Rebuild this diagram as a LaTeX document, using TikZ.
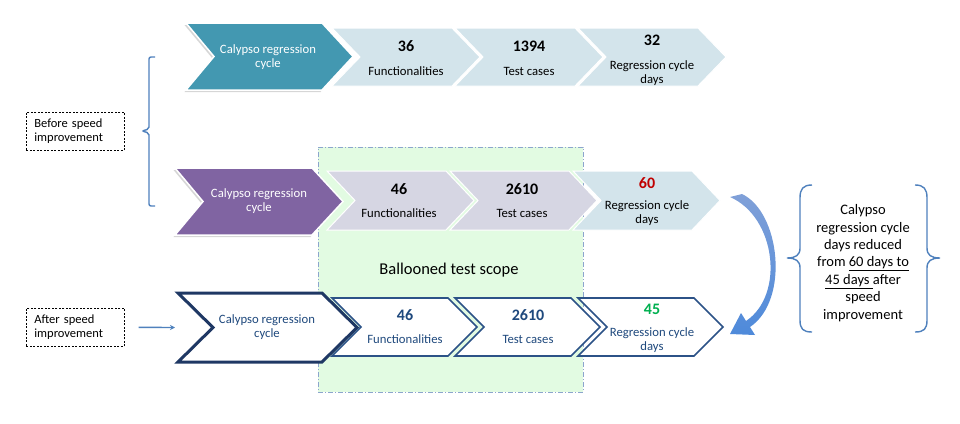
\documentclass[tikz,border=0pt]{standalone}
\usepackage{fontspec}
\setmainfont{Carlito}
\usetikzlibrary{shadows,arrows.meta}
\definecolor{tealc}{RGB}{67,152,177}
\definecolor{lightc}{RGB}{211,228,235}
\definecolor{purplec}{RGB}{128,100,162}
\definecolor{lavc}{RGB}{214,214,227}
\definecolor{greenbg}{RGB}{226,251,226}
\definecolor{scopeline}{RGB}{140,165,205}
\definecolor{navyc}{RGB}{31,56,100}
\definecolor{outc}{RGB}{44,82,135}
\definecolor{navytext}{RGB}{31,73,125}
\definecolor{redc}{RGB}{192,0,0}
\definecolor{greenc}{RGB}{0,176,80}
\definecolor{bracec}{RGB}{79,129,189}
\definecolor{arrtop}{RGB}{128,160,216}
\definecolor{arrmid}{RGB}{195,215,242}
\definecolor{arrbot}{RGB}{78,138,218}
\newcommand\chevbox[5]{\node[cbox, minimum width=#4pt, minimum height=#5pt] (#1) at (#2,#3) {};}
\newcommand\drawchevron[4]{%
  \path[#4] (#1.north west) -- ([xshift=-#3pt]#1.north east) -- (#1.east)
    -- ([xshift=-#3pt]#1.south east) -- (#1.south west) -- ([xshift=#2pt]#1.west) -- cycle;}
\tikzset{
  cbox/.style={anchor=north west, inner sep=0pt, outer sep=0pt, draw=none},
  lightchev/.style={fill=lightc, draw=white, line width=1pt},
  lavchev/.style={fill=lavc, draw=white, line width=1pt},
  bigchev/.style={draw=white, line width=1.5pt, drop shadow={shadow xshift=-1.5pt, shadow yshift=-2pt, opacity=0.35, fill=black!45}},
  outchev/.style={fill=white, draw=outc, line width=1.6pt, line join=miter},
  num/.style={font=\fontsize{16}{18}\selectfont\bfseries, inner sep=0pt},
  lab/.style={font=\fontsize{12.7}{14}\selectfont, align=center, inner sep=0pt},
  sidebox/.style={draw, dashed, dash pattern=on 2pt off 1.5pt, line width=0.7pt, anchor=north west,
    minimum height=38pt, text width=82pt, inner xsep=8pt, inner ysep=2pt, align=left,
    font=\fontsize{12.5}{14}\selectfont},
}
\begin{document}
\begin{tikzpicture}[x=1pt,y=-1pt]
\useasboundingbox (0,0) rectangle (960,423);
\fill[white] (0,0) rectangle (960,423);

% ballooned scope area
\node[cbox, fill=greenbg, draw=scopeline, line width=0.8pt, dash pattern=on 5pt off 2pt on 1pt off 2pt,
  minimum width=265pt, minimum height=245pt] (scope) at (318,147) {};
\node[font=\fontsize{16.5}{18}\selectfont, inner sep=0pt] (balloon) at (449,270) {Ballooned test scope};

% ---- top row
\chevbox{t1}{186}{23}{167}{67}
\chevbox{t2}{332}{28}{148}{58}
\chevbox{t3}{455}{28}{148}{58}
\chevbox{t4}{578}{28}{148}{58}
\drawchevron{t4}{28}{28}{lightchev}
\drawchevron{t3}{28}{28}{lightchev}
\drawchevron{t2}{28}{28}{lightchev}
\drawchevron{t1}{28}{31}{bigchev, fill=tealc}
\node[lab, text=white] (t1txt) at (268,57) {Calypso regression\\cycle};
\node[num] (t2num) at (406,46) {36};
\node[lab] (t2lab) at (406,71) {Functionalities};
\node[num] (t3num) at (529,46) {1394};
\node[lab] (t3lab) at (529,71) {Test cases};
\node[num] (t4num) at (652,40) {32};
\node[lab] (t4lab) at (652,73) {Regression cycle\\days};

% ---- middle row
\chevbox{m1}{175}{168}{168}{67}
\chevbox{m2}{327}{171}{147}{59}
\chevbox{m3}{450}{171}{147}{59}
\chevbox{m4}{573}{171}{147}{59}
\drawchevron{m4}{28}{28}{lightchev}
\drawchevron{m3}{28}{28}{lavchev}
\drawchevron{m2}{28}{28}{lavchev}
\drawchevron{m1}{28}{31}{bigchev, fill=purplec}
\node[lab, text=white] (m1txt) at (259,201) {Calypso regression\\cycle};
\node[num] (m2num) at (399,189) {46};
\node[lab] (m2lab) at (399,213) {Functionalities};
\node[num] (m3num) at (522,189) {2610};
\node[lab] (m3lab) at (522,213) {Test cases};
\node[num, text=redc] (m4num) at (647,183) {60};
\node[lab] (m4lab) at (647,213) {Regression cycle\\days};

% ---- bottom row
\chevbox{b1}{178}{293}{179}{69}
\chevbox{b2}{332}{298}{145}{58}
\chevbox{b3}{455}{298}{145}{58}
\chevbox{b4}{578}{298}{145}{58}
\drawchevron{b4}{29}{29}{outchev}
\drawchevron{b3}{29}{29}{outchev}
\drawchevron{b2}{29}{29}{outchev}
\drawchevron{b1}{35}{35}{outchev, draw=navyc, line width=3pt}
\node[lab, text=navytext] (b1txt) at (267,327) {Calypso regression\\cycle};
\node[num, text=navytext] (b2num) at (405,315) {46};
\node[lab, text=navytext] (b2lab) at (405,339) {Functionalities};
\node[num, text=navytext] (b3num) at (528,315) {2610};
\node[lab, text=navytext] (b3lab) at (528,339) {Test cases};
\node[num, text=greenc] (b4num) at (652,309) {45};
\node[lab, text=navytext] (b4lab) at (652,340) {Regression cycle\\days};

% ---- left side
\node[sidebox] (before) at (26,112) {Before speed\\improvement};
\node[sidebox] (after) at (26,308) {After speed\\improvement};
\draw[bracec, line width=1.4pt, rounded corners=2pt]
  (155,57) -- (149,57) -- (149,129) -- (142,131) -- (149,133) -- (149,206) -- (155,206);
\draw[bracec, line width=1.4pt, -{Stealth[length=5pt,width=5pt]}]
  ([xshift=14pt]after.east) -- ([xshift=-3pt]b1.west);

% ---- curved arrow from 60 days to 45 days
\shade[top color=arrtop, middle color=arrmid, bottom color=arrbot]
  (730,197) -- (742,194) .. controls (780,212) and (790,300) .. (750,327)
  -- (755,335) -- (730,334) -- (741,313) -- (746,321)
  .. controls (785,295) and (776,217) .. (730,197) -- cycle;

% ---- summary with braces
\node[font=\fontsize{14.5}{17.4}\selectfont, align=center, inner sep=0pt] (summary) at (863,263)
  {Calypso\\regression cycle\\days reduced\\from \underline{60 days to}\\\underline{45 days\ }after\\speed\\improvement};
\draw[bracec, line width=1.4pt]
  (812,185) .. controls (803,185) and (800,189) .. (800,198) -- (800,248)
  .. controls (800,255) and (796,258) .. (787,258)
  .. controls (796,258) and (800,261) .. (800,268) -- (800,320)
  .. controls (800,329) and (803,332) .. (812,332);
\draw[bracec, line width=1.4pt]
  (915,185) .. controls (924,185) and (927,189) .. (927,198) -- (927,248)
  .. controls (927,255) and (931,258) .. (940,258)
  .. controls (931,258) and (927,261) .. (927,268) -- (927,320)
  .. controls (927,329) and (924,332) .. (915,332);
\end{tikzpicture}
\end{document}
